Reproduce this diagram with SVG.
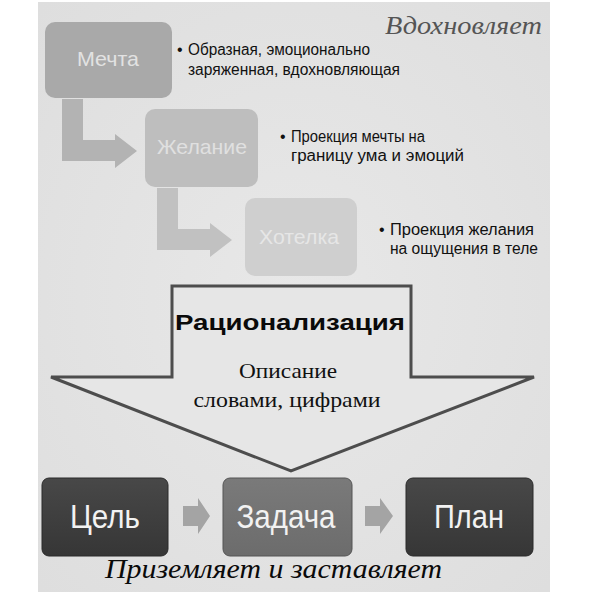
<svg xmlns="http://www.w3.org/2000/svg" width="591" height="600" viewBox="0 0 591 600">
  <defs>
    <style>
      .sans { font-family: "Liberation Sans", Arial, sans-serif; }
      .bul { font-family: "Liberation Sans", Arial, sans-serif; font-size: 16px; fill: #111; }
      .hand { font-family: "Liberation Serif", "Times New Roman", serif; font-style: italic; }
      .lbl { font-family: "Liberation Sans", Arial, sans-serif; text-anchor: middle; }
      .big { font-family: "Liberation Sans", Arial, sans-serif; font-size: 33px; fill: #f2f2f2; text-anchor: middle; }
      .conn { stroke: none; }
    </style>
    <radialGradient id="bg" cx="50%" cy="50%" r="70%">
      <stop offset="0" stop-color="#e8e8e8"/>
      <stop offset="1" stop-color="#dedede"/>
    </radialGradient>
    <linearGradient id="dark" x1="0" y1="0" x2="0" y2="1">
      <stop offset="0" stop-color="#484848"/>
      <stop offset="1" stop-color="#363636"/>
    </linearGradient>
    <linearGradient id="mid" x1="0" y1="0" x2="0" y2="1">
      <stop offset="0" stop-color="#7a7a7a"/>
      <stop offset="1" stop-color="#6c6c6c"/>
    </linearGradient>
  </defs>

  <rect x="0" y="0" width="591" height="600" fill="#ffffff"/>
  <rect x="38" y="2" width="512" height="590" fill="url(#bg)"/>

  <text class="hand" x="385" y="34" font-size="25" fill="#555555" textLength="157" lengthAdjust="spacingAndGlyphs">Вдохновляет</text>

  <g id="connectors">
    <path class="conn" fill="#b3b3b3" d="M62,99 H83 V140 H115 V134 L137,151 L115,168 V161 H62 Z"/>
    <path class="conn" fill="#c1c1c1" d="M157,188 H178 V229 H210 V223 L232,240 L210,257 V250 H157 Z"/>
    <path class="conn" fill="#a4a4a4" d="M183,506 H198 V498 L210,516 L198,534 V526 H183 Z"/>
    <path class="conn" fill="#a4a4a4" d="M365,506 H380 V498 L393,516 L380,534 V526 H365 Z"/>
  </g>

  <g id="mechta">
    <rect x="45" y="22" width="127" height="76" rx="10" fill="#a9a9a9"/>
    <text class="lbl" x="108" y="66" font-size="21" fill="#e2e2e2" textLength="62" lengthAdjust="spacingAndGlyphs">Мечта</text>
    <text class="bul" x="177" y="55">•</text>
    <text class="bul" x="188" y="55" textLength="182" lengthAdjust="spacingAndGlyphs">Образная, эмоционально</text>
    <text class="bul" x="188" y="75" textLength="212" lengthAdjust="spacingAndGlyphs">заряженная, вдохновляющая</text>
  </g>

  <g id="zhelanie">
    <rect x="145" y="109" width="113" height="78" rx="10" fill="#bebebe"/>
    <text class="lbl" x="202" y="154" font-size="21" fill="#e0e0e0" textLength="90" lengthAdjust="spacingAndGlyphs">Желание</text>
    <text class="bul" x="280" y="142">•</text>
    <text class="bul" x="291" y="142" textLength="134" lengthAdjust="spacingAndGlyphs">Проекция мечты на</text>
    <text class="bul" x="291" y="161" textLength="173" lengthAdjust="spacingAndGlyphs">границу ума и эмоций</text>
  </g>

  <g id="hotelka">
    <rect x="245" y="198" width="112" height="78" rx="10" fill="#cfcfcf"/>
    <text class="lbl" x="299" y="244" font-size="21" fill="#e6e6e6" textLength="80" lengthAdjust="spacingAndGlyphs">Хотелка</text>
    <text class="bul" x="379" y="235">•</text>
    <text class="bul" x="390" y="235" textLength="144" lengthAdjust="spacingAndGlyphs">Проекция желания</text>
    <text class="bul" x="390" y="254" textLength="148" lengthAdjust="spacingAndGlyphs">на ощущения в теле</text>
  </g>

  <g id="racionalizaciya">
    <path d="M172,286 H411 V377 H534 L291,471 L51,377 H172 Z" fill="#e6e6e6" stroke="#4d4d4d" stroke-width="3" stroke-linejoin="miter"/>
    <text class="lbl" x="290" y="330" font-size="22" font-weight="bold" fill="#0a0a0a" textLength="230" lengthAdjust="spacingAndGlyphs">Рационализация</text>
    <text x="288" y="378" font-family="'Liberation Serif', 'Times New Roman', serif" font-size="21" fill="#111" text-anchor="middle" textLength="98" lengthAdjust="spacingAndGlyphs">Описание</text>
    <text x="287" y="407" font-family="'Liberation Serif', 'Times New Roman', serif" font-size="21" fill="#111" text-anchor="middle" textLength="187" lengthAdjust="spacingAndGlyphs">словами, цифрами</text>
  </g>

  <g id="cel">
    <rect x="42" y="478" width="126" height="78" rx="7" fill="url(#dark)" stroke="#2a2a2a" stroke-width="1"/>
    <text class="big" x="105" y="528" textLength="70" lengthAdjust="spacingAndGlyphs">Цель</text>
  </g>

  <g id="zadacha">
    <rect x="223" y="478" width="129" height="78" rx="7" fill="url(#mid)" stroke="#555555" stroke-width="1"/>
    <text class="big" x="286" y="528" textLength="99" lengthAdjust="spacingAndGlyphs">Задача</text>
  </g>

  <g id="plan">
    <rect x="406" y="478" width="127" height="78" rx="7" fill="url(#dark)" stroke="#2a2a2a" stroke-width="1"/>
    <text class="big" x="469" y="528" textLength="70" lengthAdjust="spacingAndGlyphs">План</text>
  </g>

  <text class="hand" x="105" y="578" font-size="27" fill="#0a0a0a" textLength="337" lengthAdjust="spacingAndGlyphs">Приземляет и заставляет</text>
</svg>
